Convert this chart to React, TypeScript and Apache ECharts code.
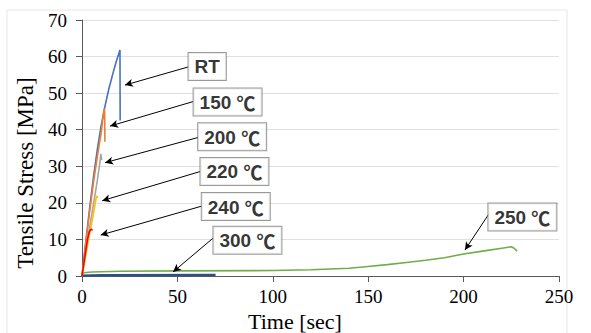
import React, { useEffect, useRef } from "react";
import * as echarts from "echarts";

// Time [sec], Tensile Stress [MPa]
const rtData: [number, number][] = [
  [0, 0], [2, 9.5], [4, 18.5], [6, 27], [8, 34.5], [10, 41], [12, 46.3], [14, 51], [16, 55], [18, 58.7], [19.9, 61.8], [20, 42.5],
];
const t150Data: [number, number][] = [
  [0, 0], [2, 9], [4, 17.5], [6, 25.5], [8, 32.5], [10, 39], [11.2, 44.2], [11.7, 45.8], [11.9, 44.5], [12, 36.7],
];
const t200Data: [number, number][] = [
  [0, 0], [2, 6.6], [4, 13.2], [6, 19.6], [8, 26], [9.5, 31.5], [9.9, 33.4], [10.3, 31.7],
];
const t220Data: [number, number][] = [
  [0, 0], [2, 5.8], [4, 11.5], [6, 17], [7.4, 21.3], [7.8, 21.9], [8.2, 21.4],
];
const t240Data: [number, number][] = [
  [0, 0], [1, 3.5], [2, 7], [3, 10.3], [3.8, 12.1], [4.5, 12.7], [5.1, 12.8], [5.3, 12.4],
];
const t250Data: [number, number][] = [
  [0, 0], [0.5, 0.6], [1, 0.9], [5, 1.1], [20, 1.3], [50, 1.4], [100, 1.5], [120, 1.7], [140, 2.1], [150, 2.6],
  [160, 3.1], [170, 3.7], [180, 4.3], [190, 5.0], [200, 6.0], [210, 6.8], [220, 7.6], [225, 8.0], [226.5, 7.6], [228, 6.8],
];
const t300Data: [number, number][] = [
  [0, 0.1], [10, 0.25], [70, 0.3],
];

// label boxes: [time, stress, number part, unit part]
const labelBoxes: [number, number, string, string][] = [
  [65.6, 57.3, "RT", ""],
  [76.3, 47.6, "150 ", "℃"],
  [78.7, 38.1, "200 ", "℃"],
  [79.9, 28.6, "220 ", "℃"],
  [80.6, 19.0, "240 ", "℃"],
  [86.7, 9.8, "300 ", "℃"],
  [230.8, 16.1, "250 ", "℃"],
];
// arrows: [fromTime, fromStress, toTime, toStress]
const arrows: [number, number, number, number][] = [
  [55.9, 57.2, 22.5, 52.2],
  [58.3, 47.7, 14.7, 41.0],
  [61.0, 37.9, 12.1, 31.0],
  [62.2, 28.6, 10.6, 20.6],
  [62.7, 19.1, 9.8, 11.2],
  [68.8, 10.4, 47.7, 1.1],
  [213.3, 17.0, 200.7, 7.1],
];

const xTicks = { min: 0, max: 250, interval: 50 };
const yTicks = { min: 0, max: 70, interval: 10 };

const serif = "Liberation Serif, Times New Roman, serif";
const sans = "Liberation Sans, Arial, sans-serif";
const cjk = "Noto Sans CJK JP";

export default function App() {
  const ref = useRef<HTMLDivElement>(null);
  useEffect(() => {
    if (!ref.current) return;
    const chart = echarts.init(ref.current, null, { renderer: "svg" });
    const lineSeries = (name: string, data: [number, number][], color: string, width = 1.6) => ({
      name,
      type: "line",
      data,
      showSymbol: false,
      symbol: "none",
      lineStyle: { color, width },
      itemStyle: { color },
      z: 3,
    });
    chart.setOption({
      animation: false,
      backgroundColor: "#ffffff",
      textStyle: { fontFamily: serif },
      grid: { left: 82, right: 32, top: 20, bottom: 57, containLabel: false },
      xAxis: {
        type: "value",
        min: xTicks.min,
        max: xTicks.max,
        interval: xTicks.interval,
        axisLine: { show: true, lineStyle: { color: "#595959", width: 1 } },
        axisTick: { show: true, inside: false, length: 6, lineStyle: { color: "#595959" } },
        axisLabel: { color: "#000", fontFamily: serif, fontSize: 19, margin: 11 },
        splitLine: { show: false },
      },
      yAxis: {
        type: "value",
        min: yTicks.min,
        max: yTicks.max,
        interval: yTicks.interval,
        axisLine: { show: true, lineStyle: { color: "#595959", width: 1 } },
        axisTick: { show: true, inside: false, length: 6, lineStyle: { color: "#595959" } },
        axisLabel: { color: "#000", fontFamily: serif, fontSize: 19, margin: 15 },
        splitLine: { show: true, lineStyle: { color: "#e0e0e0", width: 1 } },
      },
      series: [
        lineSeries("250 ℃", t250Data, "#70AD47"),
        lineSeries("300 ℃", t300Data, "#2F4F8A", 2.2),
        lineSeries("RT", rtData, "#4472C4"),
        lineSeries("200 ℃", t200Data, "#A5A5A5"),
        lineSeries("150 ℃", t150Data, "#ED7D31"),
        lineSeries("220 ℃", t220Data, "#FFC000"),
        lineSeries("240 ℃", t240Data, "#FF0000"),
        {
          name: "labels",
          type: "scatter",
          data: labelBoxes,
          symbolSize: 1,
          itemStyle: { color: "rgba(0,0,0,0)" },
          z: 10,
          label: {
            show: true,
            position: "inside",
            formatter: (p: any) => (p.value[3] ? `{n|${p.value[2]}}{u|${p.value[3]}}` : `{n|${p.value[2]}}`),
            backgroundColor: "#ffffff",
            borderColor: "#808080",
            borderWidth: 1,
            padding: [4, 6, 3, 6],
            rich: {
              n: { fontFamily: sans, fontWeight: "bold", fontSize: 19, color: "#000", lineHeight: 20 },
              u: { fontFamily: cjk, fontWeight: "bold", fontSize: 19, color: "#000", lineHeight: 20 },
            },
          },
          markLine: {
            silent: true,
            symbol: ["none", "arrow"],
            symbolSize: [6, 8],
            lineStyle: { color: "#000", width: 1, type: "solid" },
            label: { show: false },
            data: arrows.map((a) => [{ coord: [a[0], a[1]] }, { coord: [a[2], a[3]] }]),
          },
        },
      ],
      graphic: [
        {
          type: "rect",
          shape: { x: 7, y: 10, width: 560, height: 340 },
          style: { fill: "none", stroke: "#e6e6e6", lineWidth: 1 },
          silent: true,
          z: -1,
        },
        {
          type: "text",
          x: 25,
          y: 173,
          rotation: Math.PI / 2,
          style: {
            text: "Tensile Stress [MPa]",
            fontFamily: serif,
            fontSize: 23,
            fill: "#000",
            align: "center",
            verticalAlign: "middle",
          },
        },
        {
          type: "text",
          x: 295,
          y: 321,
          style: {
            text: "Time [sec]",
            fontFamily: serif,
            fontSize: 22,
            fill: "#000",
            align: "center",
            verticalAlign: "middle",
          },
        },
      ],
    });
    return () => chart.dispose();
  }, []);
  return (
    <div
      ref={ref}
      style={{ position: "fixed", left: 0, top: 0, width: 591, height: 333, background: "#fff" }}
    />
  );
}
